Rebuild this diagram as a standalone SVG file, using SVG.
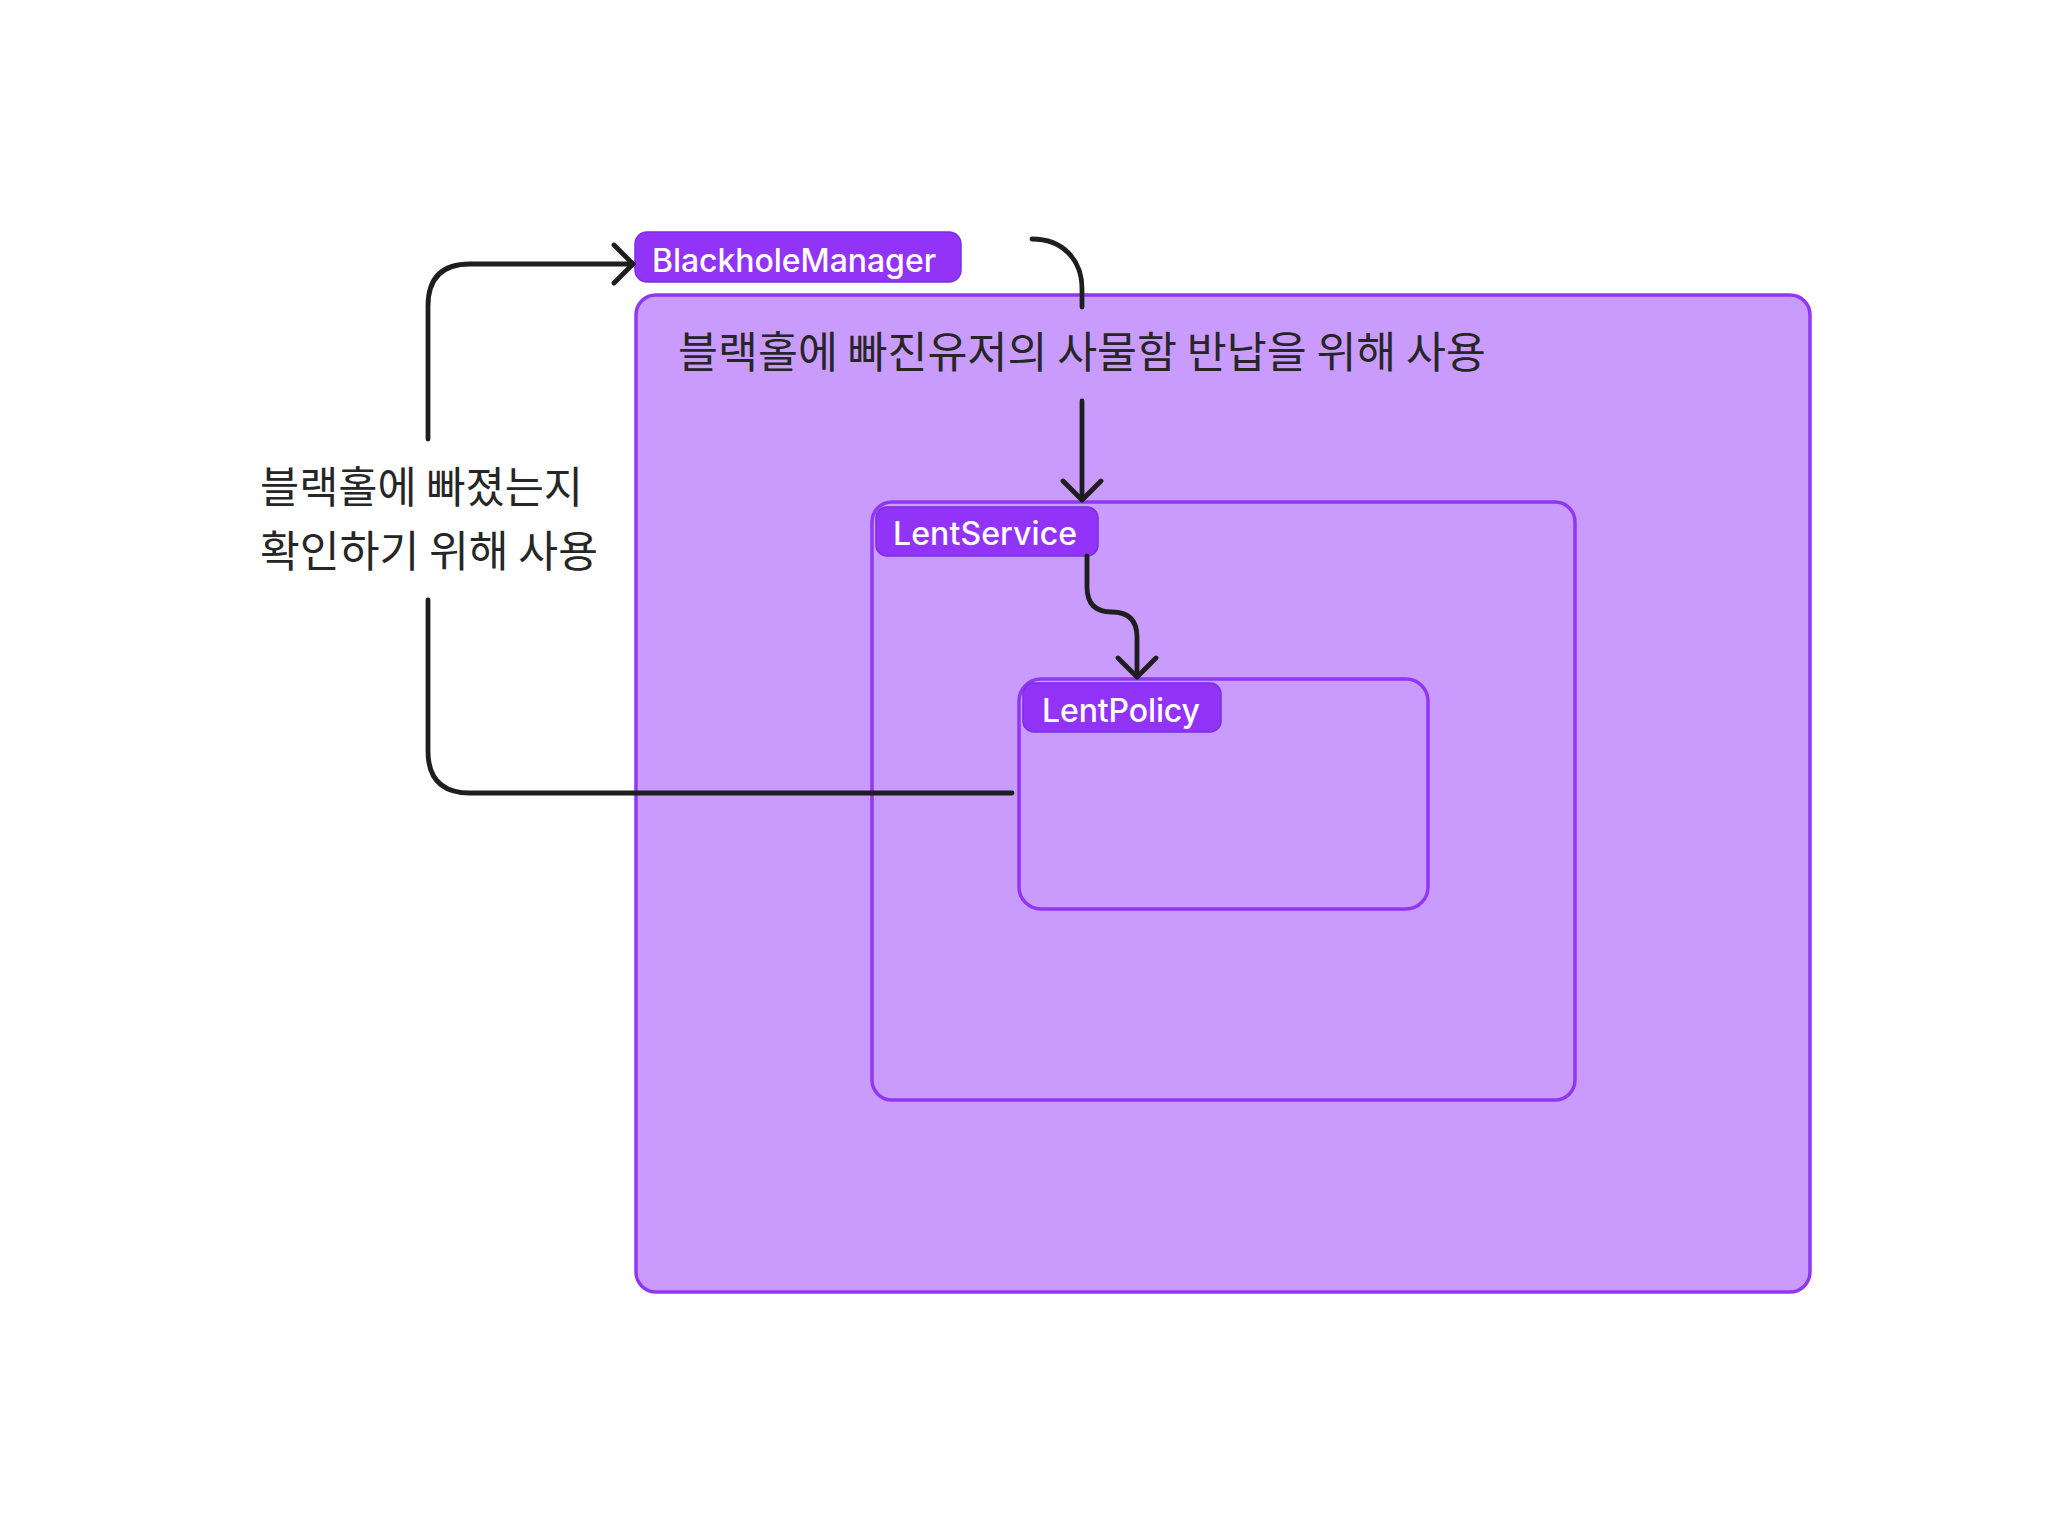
<svg xmlns="http://www.w3.org/2000/svg" width="2048" height="1530" viewBox="0 0 2048 1530">
<defs>
<style>
.box{fill:#c89bfd;stroke:#9137f4;stroke-width:3.5}
.pill{fill:#9234f8;stroke:#7a2fe0;stroke-width:1.5}
.pt{font-family:Inter,"Noto Sans",sans-serif;font-size:32px;font-weight:500;fill:#ffffff}
.kt{font-family:"Noto Sans CJK KR","Noto Sans",sans-serif;font-size:43px;fill:#262626}
.conn{fill:none;stroke:#1e1e1e;stroke-width:4.8;stroke-linecap:round;stroke-linejoin:round}
</style>
<marker id="arr" viewBox="-22 -22 26 44" markerWidth="26" markerHeight="44" refX="0" refY="0" orient="auto" markerUnits="userSpaceOnUse">
<path d="M-19,-19 L0,0 L-19,19" fill="none" stroke="#1e1e1e" stroke-width="4.8" stroke-linecap="round" stroke-linejoin="round"/>
</marker>
</defs>
<rect width="2048" height="1530" fill="#ffffff"/>
<g id="outer-box">
<rect class="box" x="636" y="295" width="1174" height="997" rx="20"/>
<text class="kt" x="678" y="368" textLength="808" lengthAdjust="spacingAndGlyphs">블랙홀에 빠진유저의 사물함 반납을 위해 사용</text>
</g>
<g id="blackhole-manager">
<rect class="pill" x="635" y="232" width="326" height="50" rx="12"/>
<text class="pt" x="652" y="272" textLength="284">BlackholeManager</text>
</g>
<g id="lent-service">
<rect class="box" x="872" y="502" width="703" height="598" rx="20"/>
<rect class="pill" x="876" y="507" width="222" height="49" rx="11"/>
<text class="pt" x="893" y="545" textLength="184">LentService</text>
</g>
<g id="lent-policy">
<rect class="box" x="1019" y="679" width="409" height="230" rx="22"/>
<rect class="pill" x="1023" y="683" width="198" height="49" rx="11"/>
<text class="pt" x="1042" y="722" textLength="158">LentPolicy</text>
</g>
<g id="label-left">
<text class="kt" x="260" y="503" textLength="323" lengthAdjust="spacingAndGlyphs">블랙홀에 빠졌는지</text>
<text class="kt" x="260" y="567" textLength="338" lengthAdjust="spacingAndGlyphs">확인하기 위해 사용</text>
</g>
<g id="connectors">
<path class="conn" d="M1012,793 H470 Q428,793 428,751 V600"/>
<path class="conn" d="M428,439 V306 Q428,264 470,264 H633" marker-end="url(#arr)"/>
<path class="conn" d="M1032,239 C1062,239 1082,259 1082,289 V307"/>
<path class="conn" d="M1082,401 V500" marker-end="url(#arr)"/>
<path class="conn" d="M1087,556 V587 Q1087,612 1112,612 Q1137,612 1137,637 V677" marker-end="url(#arr)"/>
</g>
</svg>
